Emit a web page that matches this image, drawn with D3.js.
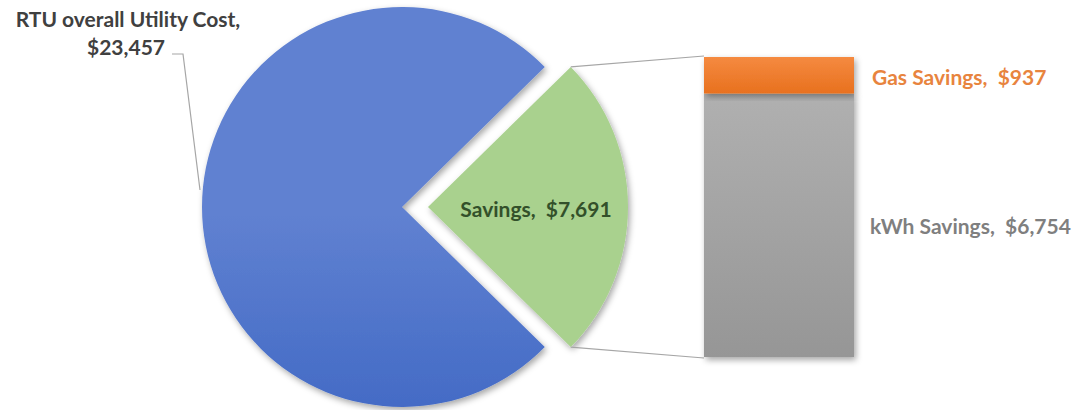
<!DOCTYPE html>
<html>
<head>
<meta charset="utf-8">
<script src="https://cdn.jsdelivr.net/npm/d3@7"></script>
<style>
  html, body { margin: 0; padding: 0; background: #fff; }
  svg { display: block; }
  text { font-family: Lato, "Open Sans", sans-serif; font-weight: 700; }
</style>
</head>
<body>
<svg id="chart" width="1080" height="410"></svg>
<script>
// ---- data ----
const pieCategories = ["RTU overall Utility Cost", "Savings"];
const pieValues = [23457, 7691];
const barCategories = ["kWh Savings", "Gas Savings"];
const barValues = [6754, 937];

const svg = d3.select("#chart");
const defs = svg.append("defs");

function vGrad(id, y1, y2, stops) {
  const g = defs.append("linearGradient").attr("id", id)
    .attr("gradientUnits", "userSpaceOnUse")
    .attr("x1", 0).attr("x2", 0).attr("y1", y1).attr("y2", y2);
  stops.forEach(([o, c]) => g.append("stop").attr("offset", o).attr("stop-color", c));
}
vGrad("gBlue", 7, 407, [["0%", "#6081D1"], ["55%", "#4068C4"], ["100%", "#305CBE"]]);
vGrad("gOrange", 57, 93, [["0%", "#F58A40"], ["100%", "#E8711F"]]);
vGrad("gGray", 93, 357, [["0%", "#B0B0B0"], ["100%", "#969696"]]);

const f = defs.append("filter").attr("id", "shadow")
  .attr("x", "-20%").attr("y", "-20%").attr("width", "140%").attr("height", "140%");
f.append("feDropShadow").attr("dx", 2).attr("dy", 3).attr("stdDeviation", 3)
  .attr("flood-color", "#000").attr("flood-opacity", 0.35);

// ---- pie ----
const cx = 402, cy = 207, R = 200, explode = 26;
const total = d3.sum(pieValues);
const aGreen = pieValues[1] / total * 2 * Math.PI;
const start = Math.PI / 2 + aGreen / 2 - 2 * Math.PI;
const pie = d3.pie().sort(null).startAngle(start).endAngle(start + 2 * Math.PI);
const arcs = pie(pieValues);
const arcGen = d3.arc().innerRadius(0).outerRadius(R);
const fills = ["url(#gBlue)", "#A9D18E"];

const pieG = svg.append("g");
arcs.forEach((d, i) => {
  const mid = (d.startAngle + d.endAngle) / 2;
  const off = i === 1 ? explode : 0;
  const ox = cx + off * Math.sin(mid), oy = cy - off * Math.cos(mid);
  pieG.append("path")
    .attr("transform", `translate(${ox},${oy})`)
    .attr("d", arcGen(d))
    .attr("fill", fills[i])
    .attr("filter", "url(#shadow)");
});

// green slice corner points
const g = arcs[1];
const gcx = cx + explode * Math.sin((g.startAngle + g.endAngle) / 2);
const gcy = cy - explode * Math.cos((g.startAngle + g.endAngle) / 2);
const topPt = [gcx + R * Math.sin(g.startAngle), gcy - R * Math.cos(g.startAngle)];
const botPt = [gcx + R * Math.sin(g.endAngle), gcy - R * Math.cos(g.endAngle)];

// ---- bar ----
const barX = 704, barW = 150;
const y = d3.scaleLinear().domain([0, d3.sum(barValues)]).range([357, 57]);
const stacked = d3.stack().keys(barCategories)([Object.fromEntries(barCategories.map((k, i) => [k, barValues[i]]))]);
const barFills = ["url(#gGray)", "url(#gOrange)"];

// connectors
svg.append("line").attr("x1", topPt[0]).attr("y1", topPt[1]).attr("x2", barX).attr("y2", y(d3.sum(barValues)) - 1)
  .attr("stroke", "#A6A6A6").attr("stroke-width", 1.2);
svg.append("line").attr("x1", botPt[0]).attr("y1", botPt[1]).attr("x2", barX).attr("y2", y(0) + 1)
  .attr("stroke", "#A6A6A6").attr("stroke-width", 1.2);

const barG = svg.append("g");
stacked.forEach((s, i) => {
  barG.append("rect")
    .attr("x", barX).attr("width", barW)
    .attr("y", y(s[0][1])).attr("height", y(s[0][0]) - y(s[0][1]))
    .attr("fill", barFills[i])
    .attr("filter", "url(#shadow)");
});

// ---- labels ----
const fmt = d3.format("$,");
const fs = 21;
// RTU label
const rtu = svg.append("text").attr("fill", "#404040").attr("font-size", fs).attr("text-anchor", "middle");
rtu.append("tspan").attr("x", 128).attr("y", 27).text(pieCategories[0] + ",");
rtu.append("tspan").attr("x", 126).attr("y", 55).text(fmt(pieValues[0]));
svg.append("polyline").attr("points", "172,54 183,54 200,190")
  .attr("fill", "none").attr("stroke", "#A6A6A6").attr("stroke-width", 1.2);

// Savings label
svg.append("text").attr("x", 536).attr("y", 217).attr("text-anchor", "middle")
  .attr("fill", "#33502A").attr("font-size", fs)
  .text(pieCategories[1] + ",\u00a0 " + fmt(pieValues[1]));

// bar labels
svg.append("text").attr("x", 872).attr("y", 85).attr("fill", "#E8843E").attr("font-size", fs)
  .text(barCategories[1] + ",\u00a0 " + fmt(barValues[1]));
svg.append("text").attr("x", 870).attr("y", 234).attr("fill", "#7F7F7F").attr("font-size", fs)
  .text(barCategories[0] + ",\u00a0 " + fmt(barValues[0]));
</script>
</body>
</html>
